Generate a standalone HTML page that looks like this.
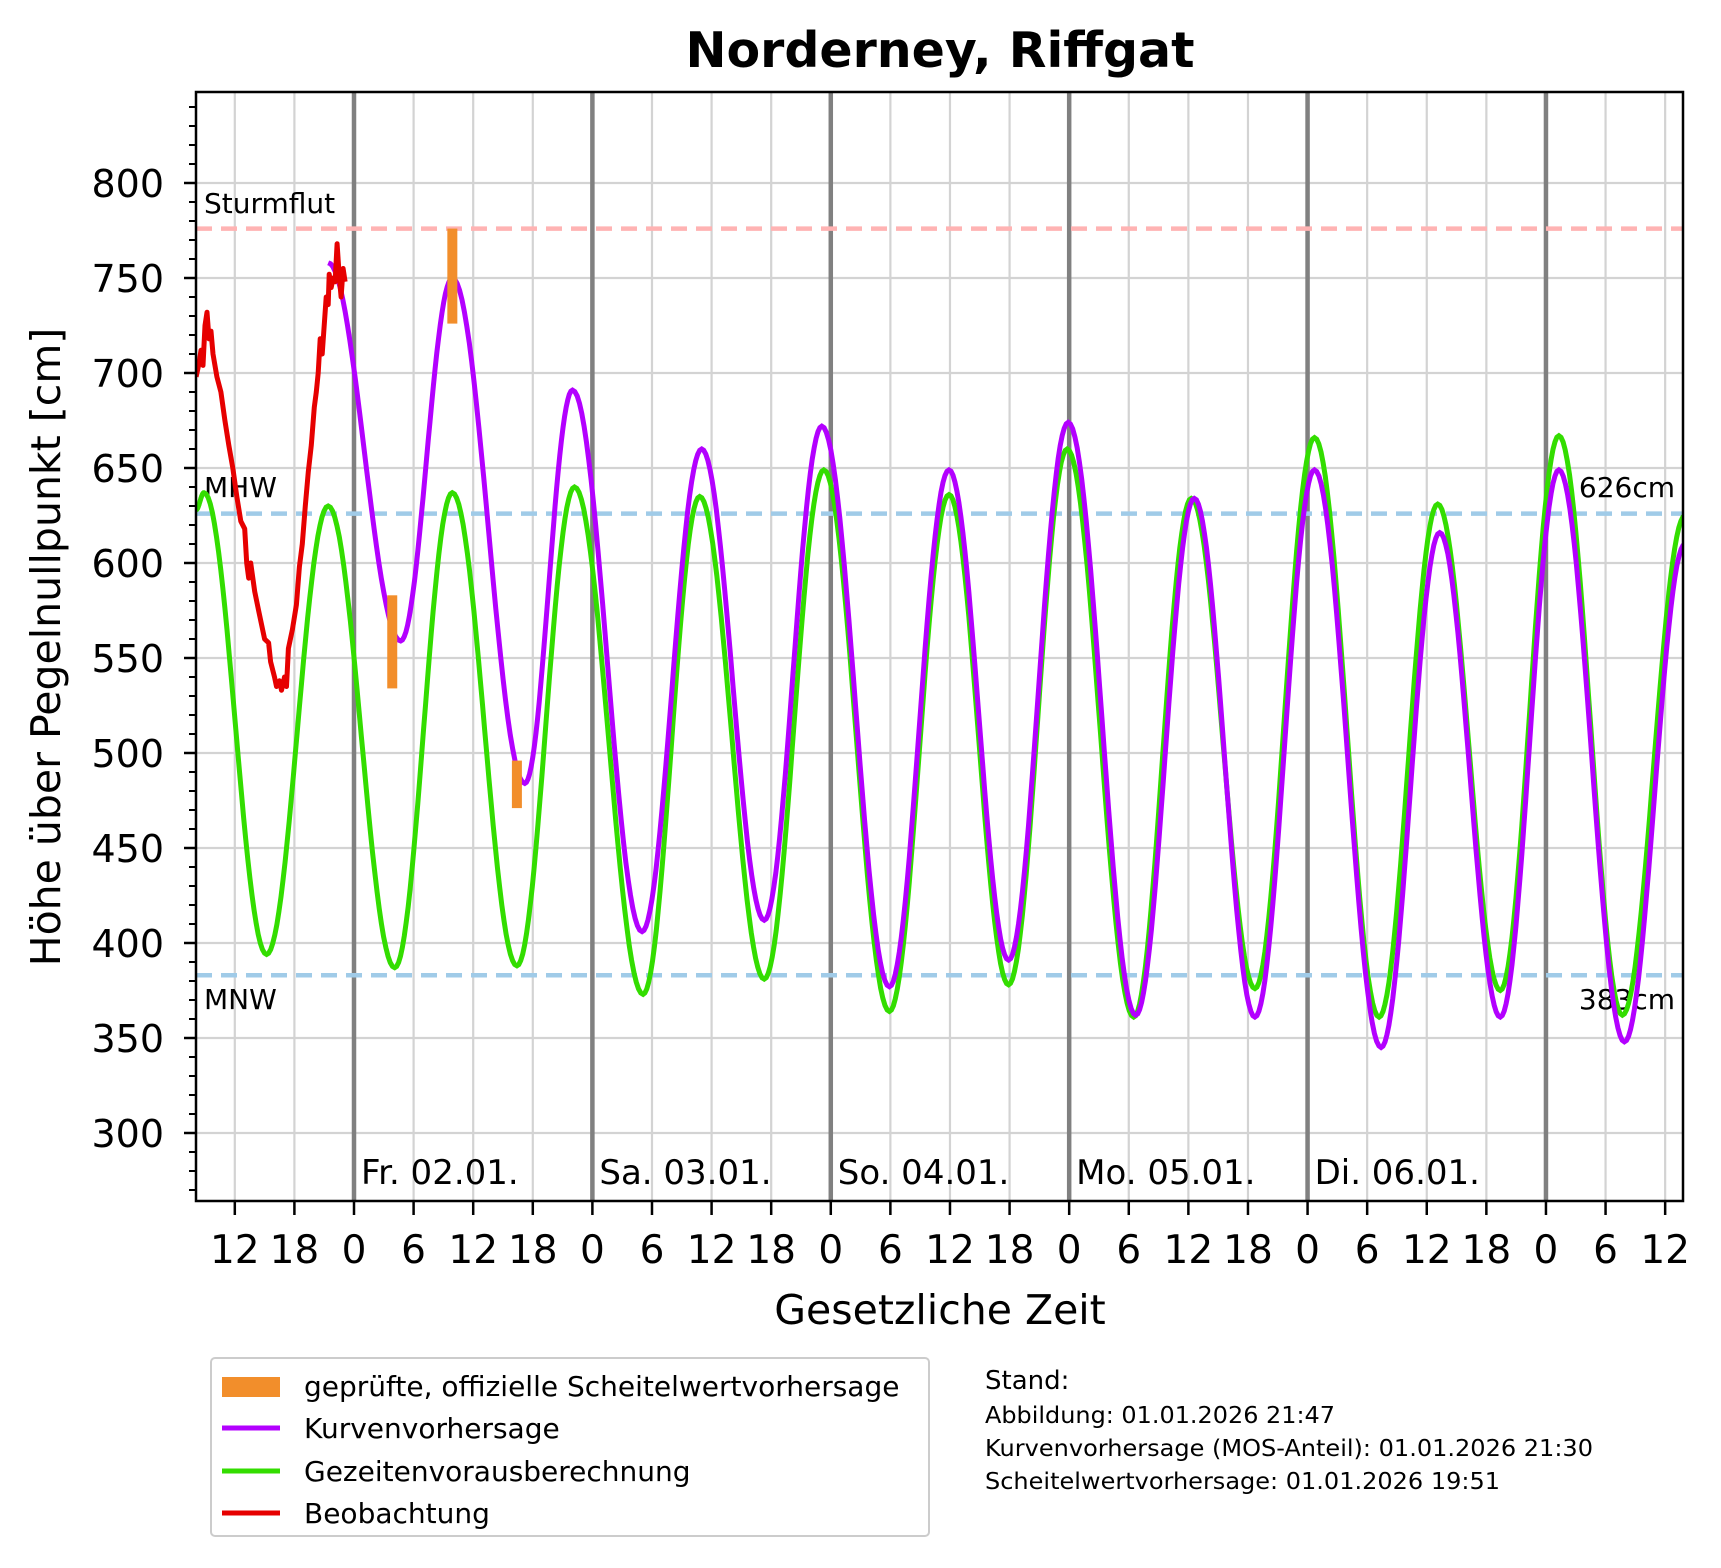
<!DOCTYPE html>
<html><head><meta charset="utf-8"><style>
html,body{margin:0;padding:0;background:#fff}
svg{display:block}
text{font-family:"DejaVu Sans","Liberation Sans",sans-serif}
</style></head><body>
<svg id="s" width="1721" height="1568" viewBox="0 0 1721 1568" xmlns="http://www.w3.org/2000/svg">
<rect width="1721" height="1568" fill="#fff"/>
<g id="grid"></g>
<g id="ref"></g>
<g id="series"></g>
<rect x="196" y="92" width="1487" height="1109" fill="none" stroke="#000" stroke-width="2.5"/>
<g id="ticks"></g>
<text x="940" y="67" font-size="49" font-weight="bold" text-anchor="middle">Norderney, Riffgat</text>
<text transform="translate(60,647) rotate(-90)" font-size="41" text-anchor="middle">Höhe über Pegelnullpunkt [cm]</text>
<text x="940" y="1324" font-size="41" text-anchor="middle">Gesetzliche Zeit</text>
<g id="legend">
<rect x="211" y="1358" width="718" height="178" rx="4" fill="#fff" stroke="#ccc" stroke-width="2"/>
<rect x="222" y="1377" width="58" height="20" fill="#f28e2b"/>
<line x1="222" y1="1428" x2="280" y2="1428" stroke="#b300ff" stroke-width="5"/>
<line x1="222" y1="1471" x2="280" y2="1471" stroke="#33dd00" stroke-width="5"/>
<line x1="222" y1="1513" x2="280" y2="1513" stroke="#e60000" stroke-width="5"/>
<text x="304" y="1396" font-size="28">geprüfte, offizielle Scheitelwertvorhersage</text>
<text x="304" y="1438" font-size="28">Kurvenvorhersage</text>
<text x="304" y="1481" font-size="28">Gezeitenvorausberechnung</text>
<text x="304" y="1523" font-size="28">Beobachtung</text>
</g>
<text x="985" y="1389" font-size="26">Stand:</text>
<text x="985" y="1423" font-size="23" textLength="350" lengthAdjust="spacingAndGlyphs">Abbildung: 01.01.2026 21:47</text>
<text x="985" y="1456" font-size="23" textLength="608" lengthAdjust="spacingAndGlyphs">Kurvenvorhersage (MOS-Anteil): 01.01.2026 21:30</text>
<text x="985" y="1489" font-size="23" textLength="515" lengthAdjust="spacingAndGlyphs">Scheitelwertvorhersage: 01.01.2026 19:51</text>
</svg>
<script>
var NS="http://www.w3.org/2000/svg";
function X(h){return 354+h*9.933;}
function Y(v){return 183+(800-v)*1.9;}
function el(p,t,a,txt){var e=document.createElementNS(NS,t);for(var k in a)e.setAttribute(k,a[k]);if(txt!==undefined)e.textContent=txt;document.getElementById(p).appendChild(e);return e;}
var L=196,R=1683,T=92,B=1201;
for(var v=300;v<=800;v+=50){el("grid","line",{x1:L,x2:R,y1:Y(v),y2:Y(v),stroke:"#d3d3d3","stroke-width":2.2});
 el("ticks","line",{x1:L-12,x2:L,y1:Y(v),y2:Y(v),stroke:"#000","stroke-width":2.5});
 el("ticks","text",{x:L-32,y:Y(v)+14,"font-size":38,"text-anchor":"end"},String(v));}
for(var v=270;v<=840;v+=10){if(v%50)el("ticks","line",{x1:L-7,x2:L,y1:Y(v),y2:Y(v),stroke:"#000","stroke-width":2});}
var labs={0:"0",6:"6",12:"12",18:"18"};
for(var h=-12;h<=132;h+=6){var x=X(h);var hh=((h%24)+24)%24;
 if(hh==0)el("grid","line",{x1:x,x2:x,y1:T,y2:B,stroke:"#808080","stroke-width":4.5});
 else el("grid","line",{x1:x,x2:x,y1:T,y2:B,stroke:"#d3d3d3","stroke-width":2.2});
 el("ticks","line",{x1:x,x2:x,y1:B,y2:B+14,stroke:"#000","stroke-width":2.5});
 el("ticks","text",{x:x,y:B+62,"font-size":39,"text-anchor":"middle"},labs[hh]);}
var days=["Fr. 02.01.","Sa. 03.01.","So. 04.01.","Mo. 05.01.","Di. 06.01."];
for(var i=0;i<5;i++)el("ticks","text",{x:X(24*i)+7,y:1184,"font-size":34},days[i]);
el("ref","line",{x1:L,x2:R,y1:Y(776),y2:Y(776),stroke:"#ffb3b3","stroke-width":4.5,"stroke-dasharray":"16,9"});
el("ref","line",{x1:L,x2:R,y1:Y(626),y2:Y(626),stroke:"#a0cbe8","stroke-width":4.5,"stroke-dasharray":"16,9"});
el("ref","line",{x1:L,x2:R,y1:Y(383),y2:Y(383),stroke:"#a0cbe8","stroke-width":4.5,"stroke-dasharray":"16,9"});
el("ref","text",{x:204,y:213,"font-size":28},"Sturmflut");
el("ref","text",{x:204,y:497,"font-size":28},"MHW");
el("ref","text",{x:R-8,y:497,"font-size":28,"text-anchor":"end"},"626cm");
el("ref","text",{x:204,y:1009,"font-size":28},"MNW");
el("ref","text",{x:R-8,y:1009,"font-size":28,"text-anchor":"end"},"383cm");
function curve(pts){var d="";for(var i=0;i<pts.length-1;i++){var a=pts[i],b=pts[i+1];var n=30;
 for(var j=0;j<=n;j++){if(i>0&&j==0)continue;var t=j/n;var h=a[0]+(b[0]-a[0])*t;var f=(1-Math.cos(Math.PI*t))/2;var v=a[1]+(b[1]-a[1])*f;
 d+=(d?"L":"M")+X(h).toFixed(1)+","+Y(v).toFixed(1);}}return d;}
var green=[[-15.9,628],[-15.1,637],[-8.8,394],[-2.6,630],[4.1,387],[9.9,637],[16.4,388],[22.2,640],[29.1,373],[34.8,635],[41.3,381],[47.3,649],[53.9,364],[59.9,636],[65.9,378],[71.8,660],[78.5,361],[84.3,634],[90.7,376],[96.7,666],[103.2,361],[109.1,631],[115.4,375],[121.3,667],[127.7,362],[134,625]];
var purple=[[-2.6,758],[4.7,559],[9.9,750],[17.2,484],[22.0,691],[29.0,406],[35.0,660],[41.3,412],[47.1,672],[53.9,377],[59.9,649],[65.9,391],[71.9,674],[78.7,362],[84.6,634],[90.7,361],[96.7,649],[103.4,345],[109.3,616],[115.4,361],[121.3,649],[127.9,348],[134,610]];
var cp=document.createElementNS(NS,"clipPath");cp.setAttribute("id","c");var cr=document.createElementNS(NS,"rect");cr.setAttribute("x",L);cr.setAttribute("y",T);cr.setAttribute("width",R-L);cr.setAttribute("height",B-T);cp.appendChild(cr);document.getElementById("s").appendChild(cp);
document.getElementById("series").setAttribute("clip-path","url(#c)");
el("series","path",{d:curve(green),fill:"none",stroke:"#33dd00","stroke-width":5});
el("series","path",{d:curve(purple),fill:"none",stroke:"#b300ff","stroke-width":5});
[[3.85,583,534],[9.9,776,726],[16.4,496,471]].forEach(function(b){el("series","rect",{x:X(b[0])-5,y:Y(b[1]),width:10,height:Y(b[2])-Y(b[1]),fill:"#f28e2b"});});
var red=[[-15.9,698],[-15.6,705],[-15.4,712],[-15.2,704],[-15.0,725],[-14.8,732],[-14.6,718],[-14.4,722],[-14.2,710],[-13.8,698],[-13.4,690],[-13,675],[-12.6,662],[-12.2,650],[-11.8,635],[-11.4,622],[-11.0,618],[-10.8,600],[-10.6,592],[-10.4,600],[-10.0,585],[-9.6,575],[-9.2,565],[-9.0,560],[-8.6,558],[-8.4,548],[-8.0,540],[-7.8,535],[-7.5,538],[-7.3,533],[-7.0,540],[-6.8,535],[-6.6,555],[-6.2,565],[-5.8,578],[-5.5,598],[-5.2,610],[-4.9,630],[-4.6,648],[-4.3,662],[-4.0,682],[-3.8,690],[-3.6,700],[-3.4,718],[-3.2,710],[-3.0,725],[-2.8,740],[-2.6,736],[-2.5,752],[-2.3,745],[-2.1,750],[-1.9,748],[-1.7,768],[-1.5,752],[-1.3,740],[-1.1,755],[-0.9,748]];
var d="";red.forEach(function(p,i){d+=(i?"L":"M")+X(p[0]).toFixed(1)+","+Y(p[1]).toFixed(1);});
el("series","path",{d:d,fill:"none",stroke:"#e60000","stroke-width":5,"stroke-linejoin":"round"});
</script>
</body></html>
